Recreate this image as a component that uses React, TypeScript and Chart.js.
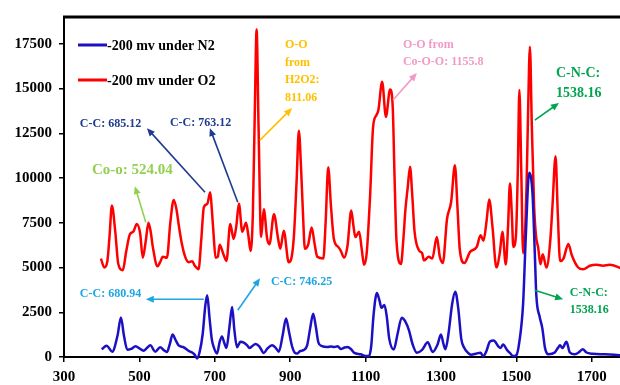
import React, { useEffect, useRef } from 'react';
import { Chart, registerables } from 'chart.js';

Chart.register(...registerables);

// ---- data ----
const seriesLabels = ['-200 mv under N2', '-200 mv under O2'];

const n2Wavenumber = [
  400, 413, 428, 442, 451, 459, 468, 478, 490, 500, 511, 520, 529, 542, 555, 565, 573, 581, 588, 596,
  604, 617, 630, 640, 647, 653, 660, 668, 675, 680, 686, 692, 697, 706, 713, 719, 725, 731, 739, 746,
  752, 759, 768, 777, 786, 792, 799, 808, 818, 830, 840, 852, 862, 870, 880, 889, 897, 905, 912, 919,
  926, 937, 945, 953, 961, 968, 975, 983, 999, 1008, 1017, 1026, 1034, 1043, 1052, 1061, 1070, 1087, 1100, 1109,
  1115, 1121, 1130, 1137, 1142, 1150, 1156, 1163, 1175, 1185, 1196, 1205, 1215, 1225, 1236, 1250, 1265, 1278, 1291, 1300,
  1307, 1312, 1320, 1330, 1338, 1346, 1354, 1362, 1371, 1380, 1395, 1405, 1412, 1420, 1430, 1440, 1452, 1458, 1465, 1475,
  1484, 1492, 1500, 1508, 1518, 1525, 1534, 1543, 1549, 1553, 1562, 1569, 1576, 1585, 1602, 1610, 1616, 1622, 1633, 1642,
  1655, 1668, 1676, 1686, 1703, 1735, 1760, 1779,
];
const n2Intensity = [
  430, 630, 300, 1200, 2210, 1200, 400, 450, 600, 480, 350, 500, 650, 300, 550, 380, 280, 750, 1260, 950,
  650, 550, 350, 250, 120, -80, 300, 1300, 2900, 3450, 2200, 1000, 570, 200, 850, 1150, 800, 500, 1700, 2800,
  1500, 550, 850, 800, 650, 500, 600, 720, 600, 230, 480, 650, 500, 300, 1200, 2150, 1400, 600, 250, 200,
  330, 400, 650, 1600, 2420, 1700, 800, 620, 560, 580, 560, 600, 450, 520, 560, 450, 230, 150, 60, 60,
  600, 2300, 3580, 3150, 2750, 2900, 2300, 1000, 420, 1300, 2200, 2000, 1500, 700, 240, 400, 820, 280, 700, 1260,
  700, 440, 1300, 3000, 3640, 2700, 1000, 500, 250, 130, 200, 240, 40, 300, 870, 920, 600, 500, 700, 400,
  200, 50, 100, 850, 3000, 6700, 10300, 9100, 5800, 3450, 2240, 1600, 510, 150, 250, 500, 650, 500, 850, 250,
  150, 300, 440, 250, 180, 150, 120, 90,
];

const o2Wavenumber = [
  398, 407, 415, 421, 427, 436, 444, 456, 465, 475, 484, 493, 502, 509, 517, 524, 530, 536, 548, 555,
  562, 573, 582, 591, 598, 604, 612, 622, 631, 640, 647, 657, 664, 671, 680, 688, 693, 697, 702, 708,
  713, 722, 731, 741, 750, 757, 764, 773, 783, 789, 795, 801, 806, 811, 816, 823, 830, 839, 845, 857,
  868, 874, 883, 896, 903, 910, 917, 923, 929, 934, 939, 948, 957, 965, 972, 988, 994, 1001, 1008, 1016,
  1028, 1034, 1043, 1052, 1062, 1068, 1073, 1083, 1090, 1096, 1103, 1112, 1120, 1129, 1134, 1144, 1154, 1165, 1172, 1177,
  1182, 1194, 1200, 1206, 1212, 1218, 1224, 1230, 1242, 1250, 1255, 1268, 1277, 1289, 1297, 1305, 1316, 1327, 1337, 1344,
  1350, 1362, 1377, 1395, 1405, 1413, 1421, 1428, 1437, 1447, 1456, 1463, 1472, 1478, 1483, 1488, 1492, 1499, 1504, 1508,
  1513, 1518, 1527, 1531, 1536, 1541, 1547, 1552, 1558, 1564, 1570, 1580, 1590, 1596, 1604, 1610, 1616, 1625, 1638, 1647,
  1664, 1677, 1695, 1713, 1730, 1748, 1779,
];
const o2Intensity = [
  5500, 5000, 5350, 6800, 8470, 7000, 5200, 4850, 5900, 6870, 7000, 7430, 6900, 5550, 6500, 7500, 7000, 6100, 5070, 5300,
  5600, 5550, 7500, 8780, 8300, 7430, 6400, 5570, 5300, 5350, 5100, 4900, 6500, 8370, 8560, 9200, 8000, 6800, 5550, 5600,
  6270, 5800, 5370, 7430, 6600, 7300, 8560, 7000, 7500, 6800, 5930, 8000, 13500, 18300, 13000, 6700, 8250, 6600, 6300, 7980,
  6600, 6050, 7060, 5300, 5500, 6780, 9800, 12650, 10500, 8000, 6050, 6300, 7240, 6300, 5600, 5500, 7500, 10600, 8500, 6600,
  6140, 5950, 5550, 6200, 8190, 7300, 6700, 7000, 6000, 5150, 5800, 9000, 12860, 13520, 13800, 15380, 13420, 14950, 14000, 10000,
  6500, 5200, 6500, 8300, 9500, 10630, 9000, 7000, 5950, 5800, 5400, 5600, 5500, 6700, 5600, 5250, 7700, 8660, 10720, 8300,
  6000, 5250, 5870, 6150, 6800, 6500, 7600, 8800, 7200, 5010, 5800, 7000, 5170, 7300, 9700, 8000, 6150, 6800, 10500, 14920,
  10500, 5800, 9500, 13500, 17340, 13000, 8500, 6800, 6100, 5180, 5740, 5000, 6500, 8500, 11220, 8000, 5360, 5500, 6320, 5700,
  5000, 4900, 5100, 5150, 5100, 5150, 4950,
];

const xTickValues = [300, 500, 700, 900, 1100, 1300, 1500, 1700];
const yTickValues = [0, 2500, 5000, 7500, 10000, 12500, 15000, 17500];

// ---- annotations (text + arrow in data coordinates) ----
type Note = {
  lines: string[];
  color: string;
  size: number;
  step: number;
  x: number;
  y: number;
  arrow: [number, number, number, number];
};
const NAVY = '#1f3b8f';
const LIGHTBLUE = '#1ea6e3';
const GREEN = '#00a550';
const notes: Note[] = [
  { lines: ['C-C: 685.12'], color: NAVY, size: 12, step: 17, x: 342, y: 13015, arrow: [674, 9210, 520, 12790] },
  { lines: ['C-C: 763.12'], color: NAVY, size: 12, step: 17, x: 581, y: 13070, arrow: [761, 8650, 687, 12790] },
  { lines: ['Co-o: 524.04'], color: '#92d050', size: 15, step: 17, x: 374, y: 10442, arrow: [517, 7534, 488, 9547] },
  { lines: ['O-O', 'from', 'H2O2:', '811.06'], color: '#ffc000', size: 12, step: 17.5, x: 886, y: 17434, arrow: [820, 12120, 905, 13910] },
  { lines: ['O-O from', 'Co-O-O: 1155.8'], color: '#f29ac7', size: 12, step: 17, x: 1199, y: 17434, arrow: [1173, 14357, 1236, 15867] },
  { lines: ['C-N-C:', '1538.16'], color: GREEN, size: 14, step: 20, x: 1605, y: 15867, arrow: [1549, 13239, 1613, 14190] },
  { lines: ['C-C: 680.94'], color: LIGHTBLUE, size: 12, step: 17, x: 342, y: 3507, arrow: [671, 3227, 517, 3227] },
  { lines: ['C-C: 746.25'], color: LIGHTBLUE, size: 12, step: 17, x: 849, y: 4178, arrow: [761, 2612, 820, 4402] },
  { lines: ['C-N-C:', '1538.16'], color: GREEN, size: 12, step: 17, x: 1642, y: 3562, arrow: [1549, 3731, 1624, 3227] },
];

const SERIF = '"Liberation Serif", "Times New Roman", serif';

function drawArrow(ctx: CanvasRenderingContext2D, x1: number, y1: number, x2: number, y2: number, color: string) {
  const ang = Math.atan2(y2 - y1, x2 - x1);
  const hl = 8;
  const hw = 3.5;
  ctx.save();
  ctx.strokeStyle = color;
  ctx.fillStyle = color;
  ctx.lineWidth = 1.6;
  ctx.beginPath();
  ctx.moveTo(x1, y1);
  ctx.lineTo(x2 - Math.cos(ang) * hl * 0.8, y2 - Math.sin(ang) * hl * 0.8);
  ctx.stroke();
  ctx.beginPath();
  ctx.moveTo(x2, y2);
  ctx.lineTo(x2 - Math.cos(ang) * hl - Math.sin(ang) * hw, y2 - Math.sin(ang) * hl + Math.cos(ang) * hw);
  ctx.lineTo(x2 - Math.cos(ang) * hl + Math.sin(ang) * hw, y2 - Math.sin(ang) * hl - Math.cos(ang) * hw);
  ctx.closePath();
  ctx.fill();
  ctx.restore();
}

const decorPlugin = {
  id: 'decor',
  afterDraw(chart: any) {
    const { ctx, chartArea, scales } = chart;
    const xs = scales.x;
    const ys = scales.y;
    ctx.save();
    // top border
    ctx.strokeStyle = '#000';
    ctx.lineWidth = 3;
    ctx.beginPath();
    ctx.moveTo(chartArea.left - 1, chartArea.top);
    ctx.lineTo(chart.width, chartArea.top);
    ctx.stroke();

    // legend
    const ds = chart.data.datasets;
    ds.forEach((d: any, i: number) => {
      const yy = chartArea.top + 28 + i * 35;
      ctx.strokeStyle = d.borderColor;
      ctx.lineWidth = 3;
      ctx.beginPath();
      ctx.moveTo(chartArea.left + 14, yy);
      ctx.lineTo(chartArea.left + 43, yy);
      ctx.stroke();
      ctx.fillStyle = '#000';
      ctx.font = `bold 14px ${SERIF}`;
      ctx.textAlign = 'left';
      ctx.textBaseline = 'middle';
      ctx.fillText(d.label, chartArea.left + 43, yy + 1);
    });

    // annotations
    notes.forEach((n) => {
      const [ax1, ay1, ax2, ay2] = n.arrow;
      drawArrow(
        ctx,
        xs.getPixelForValue(ax1),
        ys.getPixelForValue(ay1),
        xs.getPixelForValue(ax2),
        ys.getPixelForValue(ay2),
        n.color,
      );
      ctx.fillStyle = n.color;
      ctx.font = `bold ${n.size}px ${SERIF}`;
      ctx.textAlign = 'left';
      ctx.textBaseline = 'middle';
      const px = xs.getPixelForValue(n.x);
      const py = ys.getPixelForValue(n.y);
      n.lines.forEach((t, i) => ctx.fillText(t, px, py + i * n.step));
    });
    ctx.restore();
  },
};

export default function App() {
  const ref = useRef<HTMLCanvasElement | null>(null);
  useEffect(() => {
    if (!ref.current) return;
    const tickFont = { family: SERIF, weight: 'bold' as const, size: 15 };
    const plain = (v: any) => String(v);
    const chart = new Chart(ref.current, {
      type: 'line',
      data: {
        datasets: [
          {
            label: seriesLabels[0],
            data: n2Wavenumber.map((x, i) => ({ x, y: n2Intensity[i] })),
            borderColor: '#1c10c4',
            borderWidth: 2.5,
            pointRadius: 0,
            cubicInterpolationMode: 'monotone',
            fill: false,
            clip: false as any,
          },
          {
            label: seriesLabels[1],
            data: o2Wavenumber.map((x, i) => ({ x, y: o2Intensity[i] })),
            borderColor: '#ff0000',
            borderWidth: 2.5,
            pointRadius: 0,
            cubicInterpolationMode: 'monotone',
            fill: false,
            clip: false as any,
          },
        ],
      },
      options: {
        animation: false,
        responsive: false,
        maintainAspectRatio: false,
        layout: { padding: { top: 17, right: 0, left: 0, bottom: 0 } },
        plugins: { legend: { display: false }, tooltip: { enabled: false } },
        scales: {
          x: {
            type: 'linear',
            min: 300,
            max: 1775,
            afterBuildTicks: (s: any) => {
              s.ticks = xTickValues.map((v) => ({ value: v }));
            },
            afterFit: (s: any) => {
              s.height = 28;
            },
            ticks: { font: tickFont, color: '#000', padding: 6, maxRotation: 0, autoSkip: false, callback: plain },
            grid: { drawOnChartArea: false, drawTicks: true, tickLength: 5, color: '#000', lineWidth: 1.5 },
            border: { display: true, color: '#000', width: 2 },
          },
          y: {
            type: 'linear',
            min: 0,
            max: 19000,
            afterBuildTicks: (s: any) => {
              s.ticks = yTickValues.map((v) => ({ value: v }));
            },
            afterFit: (s: any) => {
              s.width = 64;
            },
            ticks: { font: tickFont, color: '#000', padding: 7, callback: plain },
            grid: { drawOnChartArea: false, drawTicks: true, tickLength: 5, color: '#000', lineWidth: 1.5 },
            border: { display: true, color: '#000', width: 2 },
          },
        },
      },
      plugins: [decorPlugin],
    });
    return () => chart.destroy();
  }, []);
  return (
    <div style={{ position: 'absolute', left: 0, top: 0, width: 620, height: 385, background: '#fff' }}>
      <canvas ref={ref} width={620} height={385} style={{ width: 620, height: 385, display: 'block' }} />
    </div>
  );
}
